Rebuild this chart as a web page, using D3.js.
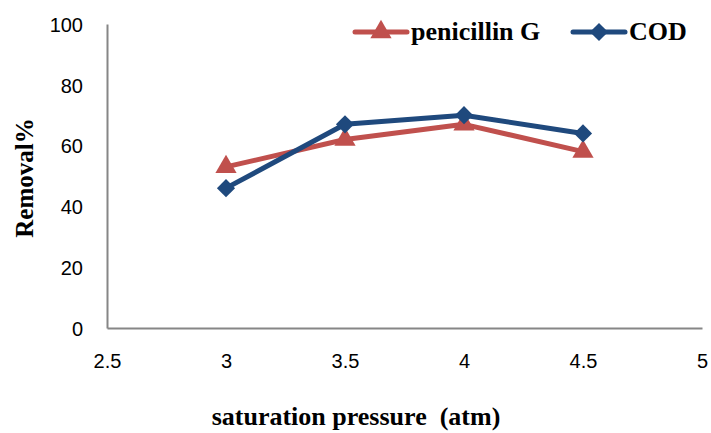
<!DOCTYPE html>
<html>
<head>
<meta charset="utf-8">
<script src="https://cdn.jsdelivr.net/npm/d3@7"></script>
<style>
  body { margin: 0; background: #fff; }
  svg { display: block; }
  .tick text { font-family: "Liberation Sans", Arial, sans-serif; font-size: 20px; fill: #000; }
  .title { font-family: "Liberation Serif", "Times New Roman", serif; font-weight: bold; fill: #000; white-space: pre; }
</style>
</head>
<body>
<div id="chart"></div>
<script>
let width = 711;
let height = 433;
let margin = ({top: 24, right: 9, bottom: 105, left: 107});

// data
let pressure = [3, 3.5, 4, 4.5];
let penicillinG = [53, 62, 67, 58];
let cod = [46, 67, 70, 64];
let xTicks = [2.5, 3, 3.5, 4, 4.5, 5];
let yTicks = [0, 20, 40, 60, 80, 100];

let series = [
    {name: "penicillin G", values: penicillinG, color: "#C0504D", symbol: "triangle"},
    {name: "COD", values: cod, color: "#1F497D", symbol: "diamond"}
];

let svg = d3.select("#chart")
    .append("svg")
    .attr("width", width)
    .attr("height", height);

let xScale = d3.scaleLinear()
    .domain([2.5, 5])
    .range([margin.left, width - margin.right]);

let yScale = d3.scaleLinear()
    .domain([0, 100])
    .range([height - margin.bottom, margin.top]);

// axes, no tick marks, just the gray lines
let xAxis = svg.append("g")
    .attr("transform", "translate(0," + (height - margin.bottom) + ")")
    .call(d3.axisBottom(xScale).tickValues(xTicks).tickSize(0).tickFormat(d3.format("")));
xAxis.selectAll(".tick text").attr("y", 40).attr("dy", 0);

let yAxis = svg.append("g")
    .attr("transform", "translate(" + margin.left + ",0)")
    .call(d3.axisLeft(yScale).tickValues(yTicks).tickSize(0));
yAxis.selectAll(".tick text").attr("x", -24).attr("dy", "0.36em");

svg.selectAll(".domain")
    .attr("stroke", "#868686")
    .attr("stroke-width", 2);

// axis titles
svg.append("text")
    .attr("class", "title")
    .attr("x", 356)
    .attr("y", 425)
    .attr("text-anchor", "middle")
    .style("font-size", "26px")
    .text("saturation pressure  (atm)");

svg.append("text")
    .attr("class", "title")
    .attr("transform", "translate(33,178) rotate(-90)")
    .attr("text-anchor", "middle")
    .style("font-size", "25px")
    .text("Removal%");

function markerPath(kind) {
    if (kind == "triangle") {
        return d3.symbol().type(d3.symbolTriangle).size(195)();
    }
    return d3.symbol().type(d3.symbolSquare).size(165)();
}

let line = d3.line()
    .x(function(d, i) { return xScale(pressure[i]); })
    .y(function(d) { return yScale(d); });

series.forEach(function(s) {
    svg.append("path")
        .attr("d", line(s.values))
        .attr("fill", "none")
        .attr("stroke", s.color)
        .attr("stroke-width", 5)
        .attr("stroke-linejoin", "round");

    svg.selectAll(".m-" + s.symbol)
        .data(s.values)
        .enter()
        .append("path")
        .attr("class", "m-" + s.symbol)
        .attr("d", markerPath(s.symbol))
        .attr("fill", s.color)
        .attr("transform", function(d, i) {
            let t = "translate(" + xScale(pressure[i]) + "," + yScale(d) + ")";
            return s.symbol == "diamond" ? t + " rotate(45)" : t;
        });
});

// legend
let legendX = [355, 573];
let legend = svg.selectAll(".legend")
    .data(series)
    .enter()
    .append("g")
    .attr("class", "legend")
    .attr("transform", function(d, i) { return "translate(" + legendX[i] + ",32)"; });

legend.append("line")
    .attr("x1", 0).attr("x2", 52)
    .attr("y1", 0).attr("y2", 0)
    .attr("stroke", function(d) { return d.color; })
    .attr("stroke-width", 5)
    .attr("stroke-linecap", "round");

legend.append("path")
    .attr("d", function(d) { return markerPath(d.symbol); })
    .attr("fill", function(d) { return d.color; })
    .attr("transform", function(d) { return "translate(26,0)" + (d.symbol == "diamond" ? " rotate(45)" : ""); });

legend.append("text")
    .attr("class", "title")
    .attr("x", 56)
    .attr("y", 8)
    .style("font-size", "26px")
    .text(function(d) { return d.name; });
</script>
</body>
</html>
